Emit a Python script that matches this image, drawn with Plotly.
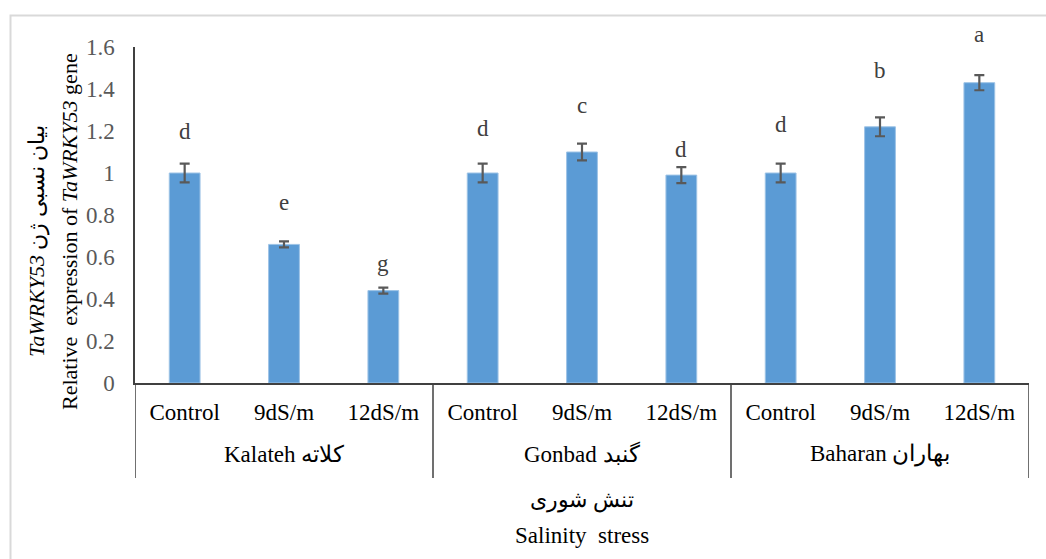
import plotly.graph_objects as go

# Relative expression of TaWRKY53 under salinity stress in three wheat cultivars
cultivars = ["Kalateh کلاته", "Gonbad گنبد", "Baharan بهاران"]
treatments = ["Control", "9dS/m", "12dS/m"] * 3
expression = [1.00, 0.66, 0.44, 1.00, 1.10, 0.99, 1.00, 1.22, 1.43]
errors = [0.045, 0.014, 0.014, 0.045, 0.040, 0.038, 0.045, 0.045, 0.036]
letters = ["d", "e", "g", "d", "c", "d", "d", "b", "a"]
letter_y = [1.20, 0.86, 0.57, 1.21, 1.32, 1.11, 1.23, 1.49, 1.66]

y_range = [0, 1.6]
y_ticks = [0, 0.2, 0.4, 0.6, 0.8, 1.0, 1.2, 1.4, 1.6]
y_ticktext = ["0", "0.2", "0.4", "0.6", "0.8", "1", "1.2", "1.4", "1.6"]

W, H = 1046, 559
L, R, T, B = 135, 17, 47, 176
PW, PH = W - L - R, H - T - B

SERIF = "Liberation Serif, Times New Roman, DejaVu Serif, serif"

# bar slots along the category axis, three treatments per cultivar
slots = list(range(len(treatments)))
per_group = len(treatments) // len(cultivars)


def px_x(p):
    return (p - L) / PW


def px_y(p):
    return (H - B - p) / PH


def value_to_paper(v):
    # letters may sit above the top of the value axis, so place them in
    # paper space using the same linear scale as the y axis
    return (v - y_range[0]) / (y_range[1] - y_range[0])


fig = go.Figure()

fig.add_trace(go.Bar(
    x=slots,
    y=expression,
    marker=dict(color="#5B9BD5", line=dict(color="#9DC3E6", width=1)),
    error_y=dict(type="data", array=errors, color="#595959",
                 thickness=2.2, width=5),
    hoverinfo="skip",
))

annotations = []
# significance letters above each bar
for s, txt, ly in zip(slots, letters, letter_y):
    annotations.append(dict(text=txt, xref="x", yref="paper", x=s,
                            y=value_to_paper(ly), font_size=23,
                            color="#404040"))

annotations += [
    dict(text="<i>TaWRKY53</i> بیان نسبی ژن", xref="paper", yref="paper",
         x=px_x(37), y=px_y(241), textangle=-90, font_size=22),
    dict(text="Relative  expression of <i>TaWRKY53</i> gene", xref="paper",
         yref="paper", x=px_x(69), y=px_y(232), textangle=-90, font_size=22),
    dict(text="تنش شوری", xref="paper", yref="paper", x=0.5, y=px_y(500),
         font_size=22),
    dict(text="Salinity  stress", xref="paper", yref="paper", x=0.5,
         y=px_y(535), font_size=23),
]
# cultivar labels under each block of three bars
for g, name in enumerate(cultivars):
    centre = sum(slots[g * per_group:(g + 1) * per_group]) / per_group
    annotations.append(dict(text=name, xref="x", yref="paper", x=centre,
                            y=px_y(454), font_size=23))
for a in annotations:
    a.update(xanchor="center", yanchor="middle", showarrow=False,
             font=dict(family=SERIF, size=a.pop("font_size"),
                       color=a.pop("color", "#000000")))

# vertical dividers between cultivar blocks, running below the axis
shapes = []
for g in range(len(cultivars) + 1):
    edge = g * per_group - 0.5
    shapes.append(dict(type="line", xref="x", yref="paper",
                       x0=edge, x1=edge, y0=px_y(478), y1=0,
                       line=dict(color="#404040", width=1.5)))
shapes.append(dict(type="rect", xref="paper", yref="paper",
                   x0=px_x(10.5), x1=px_x(1080), y0=px_y(620), y1=px_y(15.5),
                   line=dict(color="#D9D9D9", width=2), layer="below"))

fig.update_layout(
    width=W, height=H,
    margin=dict(l=L, r=R, t=T, b=B),
    paper_bgcolor="white",
    plot_bgcolor="white",
    showlegend=False,
    bargap=0.69,
    annotations=annotations,
    shapes=shapes,
    font=dict(family=SERIF, size=23, color="#000000"),
)

fig.update_xaxes(
    range=[-0.5, len(slots) - 0.5],
    tickvals=slots, ticktext=treatments,
    showline=True, linecolor="#404040", linewidth=1.5,
    ticks="", showgrid=False, zeroline=False,
    ticklabelstandoff=8,
    tickfont=dict(family=SERIF, size=23, color="#000000"),
)

fig.update_yaxes(
    range=y_range,
    tickvals=y_ticks, ticktext=y_ticktext,
    showline=True, linecolor="#404040", linewidth=1.5,
    ticks="", showgrid=False, zeroline=False,
    ticklabelstandoff=14,
    tickfont=dict(family=SERIF, size=23, color="#595959"),
)

fig.write_html("out.html")
